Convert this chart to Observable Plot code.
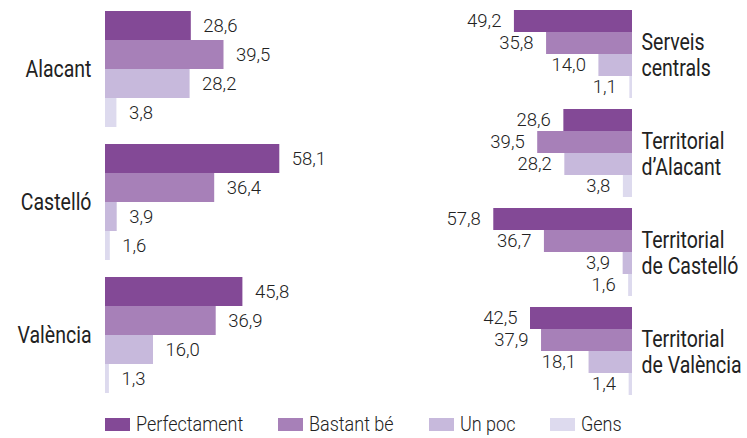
<!DOCTYPE html>
<html>
<head>
<meta charset="utf-8">
<script src="https://cdn.jsdelivr.net/npm/d3@7"></script>
<script src="https://cdn.jsdelivr.net/npm/@observablehq/plot@0.6"></script>
<style>
  body { margin: 0; background: #fff; font-family: Roboto, sans-serif; }
  #chart { position: relative; width: 747px; height: 438px; }
  #panels { display: flex; flex-direction: row; }
  #legend { position: absolute; left: 105px; top: 418px; display: flex; align-items: center; font-size: 21px; font-weight: 300; color: #222; }
  .item { display: flex; align-items: center; margin-right: 35px; height: 13px; }
  .sw { width: 25px; height: 13px; margin-right: 6px; flex: none; }
  .lab { display: inline-block; transform-origin: left center; white-space: nowrap; line-height: 13px; }
</style>
</head>
<body>
<div id="chart"><div id="panels"></div><div id="legend"></div></div>
<script>
const categories = ["Perfectament", "Bastant bé", "Un poc", "Gens"];
const colors = ["#834996", "#a780b8", "#c7b9dc", "#dddaee"];

const leftGroups = ["Alacant", "Castelló", "València"];
const leftValues = [
  [28.6, 39.5, 28.2, 3.8],
  [58.1, 36.4, 3.9, 1.6],
  [45.8, 36.9, 16.0, 1.3]
];

const rightGroups = ["Serveis\ncentrals", "Territorial\nd’Alacant", "Territorial\nde Castelló", "Territorial\nde València"];
const rightValues = [
  [49.2, 35.8, 14.0, 1.1],
  [28.6, 39.5, 28.2, 3.8],
  [57.8, 36.7, 3.9, 1.6],
  [42.5, 37.9, 18.1, 1.4]
];

const fmt = v => d3.format(".1f")(v).replace(".", ",");

function rows(groups, values) {
  const out = [];
  groups.forEach((g, i) => categories.forEach((c, j) => out.push({group: g, cat: c, value: values[i][j]})));
  return out;
}

const leftData = rows(leftGroups, leftValues);
const rightData = rows(rightGroups, rightValues);

const colorScale = {domain: categories, range: colors};
const condense = 0.83;

const left = Plot.plot({
  width: 374, height: 400,
  marginLeft: 105, marginRight: 0, marginTop: 9, marginBottom: 5,
  style: {fontFamily: "Roboto", color: "#222", background: "transparent"},
  x: {domain: [0, 269 / 3], axis: null},
  y: {domain: categories, padding: 0, axis: null},
  fy: {domain: leftGroups, padding: 0.119, axis: null},
  color: colorScale,
  marks: [
    Plot.barX(leftData, {x: "value", y: "cat", fy: "group", fill: "cat"}),
    Plot.text(leftData, {x: "value", y: "cat", fy: "group", text: d => fmt(d.value), dx: 12, textAnchor: "start", fontSize: 18.5, fontWeight: 300, fill: "#222"}),
    Plot.axisFy({anchor: "left", tickSize: 0, tickPadding: 14, label: null, fontSize: 23.5, fontWeight: 400, fill: "#222"})
  ]
});

const right = Plot.plot({
  width: 373, height: 400,
  marginLeft: 0, marginRight: 115, marginTop: 9, marginBottom: 5,
  style: {fontFamily: "Roboto", color: "#222", background: "transparent"},
  x: {domain: [0, 258 / 2.4], reverse: true, axis: null},
  y: {domain: categories, padding: 0, axis: null},
  fy: {domain: rightGroups, padding: 0.114, axis: null},
  color: colorScale,
  marks: [
    Plot.barX(rightData, {x: "value", y: "cat", fy: "group", fill: "cat"}),
    Plot.text(rightData, {x: "value", y: "cat", fy: "group", text: d => fmt(d.value), dx: -13, textAnchor: "end", fontSize: 18.5, fontWeight: 300, fill: "#222"}),
    Plot.axisFy({anchor: "right", tickSize: 0, tickPadding: 9, label: null, fontSize: 23.5, fontWeight: 400, lineHeight: 1.11, fill: "#222"})
  ]
});

// narrow the group labels horizontally (condensed look), keeping their anchor point
for (const svg of [left, right]) {
  svg.querySelectorAll('g[aria-label="fy-axis tick label"] text').forEach(t => {
    const tr = t.getAttribute("transform") || "";
    t.setAttribute("transform", tr + ` scale(${condense},1)`);
  });
}

document.getElementById("panels").append(left, right);

const cs = left.scale("color");
const legend = d3.select("#legend");
const legendScale = 0.857;
categories.forEach(c => {
  const it = legend.append("div").attr("class", "item");
  it.append("div").attr("class", "sw").style("background", cs.apply(c));
  it.append("span").attr("class", "lab").text(c);
});
legend.selectAll(".lab").each(function() {
  const w = this.offsetWidth;
  this.style.transform = `scaleX(${legendScale})`;
  this.style.marginRight = `${-w * (1 - legendScale)}px`;
});
</script>
</body>
</html>
